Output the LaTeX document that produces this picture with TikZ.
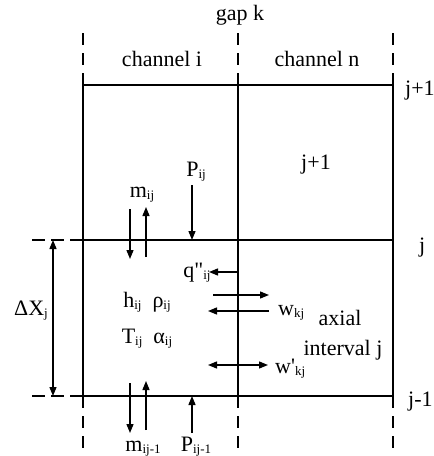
\documentclass[tikz,border=0pt]{standalone}
\usepackage{fontspec}
\setmainfont{Liberation Serif}[Ligatures=TeXOff]
\usetikzlibrary{arrows.meta}
\newcommand{\lo}[1]{\raisebox{-0.1em}{\fontsize{13}{13}\selectfont #1}}
\begin{document}
\begin{tikzpicture}[x=1pt,y=-1pt,
  wall/.style={line width=1.4pt},
  dashv/.style={line width=1.3pt,dash pattern=on 12pt off 8pt},
  dashh/.style={line width=1.3pt,dash pattern=on 13pt off 6pt},
  flow/.style={line width=1.3pt,-{Triangle[length=9pt,width=7pt]}},
  flow2/.style={line width=1.3pt,{Triangle[length=9pt,width=7pt]}-{Triangle[length=9pt,width=7pt]}},
  lab/.style={inner sep=0pt,anchor=base,font=\fontsize{22}{24}\selectfont},
  labw/.style={lab,anchor=base west}]
\useasboundingbox (0,0) rectangle (434,456);
% grid corners
\coordinate (TL) at (83,85); \coordinate (TM) at (238,85); \coordinate (TR) at (393,85);
\coordinate (ML) at (83,240); \coordinate (MM) at (238,240); \coordinate (MR) at (393,240);
\coordinate (BL) at (83,396); \coordinate (BM) at (238,396); \coordinate (BR) at (393,396);
\draw[wall] (TL) -- (TR) (ML) -- (MR) (BL) -- (BR);
\draw[wall] (TL) -- (BL) (TM) -- (BM) (TR) -- (BR);
% dashed extensions
\coordinate (TLd) at (83,33); \coordinate (TMd) at (238,33); \coordinate (TRd) at (393,33);
\coordinate (BLd) at (83,448); \coordinate (BMd) at (238,448); \coordinate (BRd) at (393,448);
\draw[dashv] (TLd) -- (TL) (TMd) -- (TM) (TRd) -- (TR);
\draw[dashv] (BL) -- (BLd) (BM) -- (BMd) (BR) -- (BRd);
\coordinate (MLd) at (32,240); \coordinate (BLh) at (32,396);
\draw[dashh] (MLd) -- (ML) (BLh) -- (BL);
% Delta X arrow
\coordinate (dxt) at (53,240); \coordinate (dxb) at (53,396);
\draw[flow2] (dxt) -- (dxb);
% labels
\node[lab] (gap) at (240,20) {gap k};
\node[lab] (chi) at (162,66) {channel i};
\node[lab] (chn) at (317,66) {channel n};
\node[labw] (jp1) at (405,95) {j+1};
\node[labw] (jj) at (419,252) {j};
\node[labw] (jm1) at (408,406) {j-1};
\node[lab] (cell) at (316,169) {j+1};
\node[lab] (P) at (196,176) {P\lo{ij}};
\node[lab] (m) at (142,197) {m\lo{ij}};
\node[lab] (q) at (197,277) {q"\lo{ij}};
\node[lab] (hr) at (147,307) {h\lo{ij}\ \ ρ\lo{ij}};
\node[lab] (Ta) at (147,343) {T\lo{ij}\ \ α\lo{ij}};
\node[labw] (w) at (278,315) {w\lo{kj}};
\node[labw] (wp) at (275,373) {w'\lo{kj}};
\node[lab] (ax) at (340,325) {axial};
\node[lab] (iv) at (343,355) {interval j};
\node[lab] (dx) at (31,315) {ΔX\lo{j}};
\node[lab] (m1) at (143,451) {m\lo{ij-1}};
\node[lab] (P1) at (196,451) {P\lo{ij-1}};
% arrows upper interface
\coordinate (a1s) at (130,209); \coordinate (a1e) at (130,259);
\coordinate (a2s) at (146,257); \coordinate (a2e) at (146,207);
\coordinate (Ps) at (192,185); \coordinate (Pe) at (192,240);
\draw[flow] (a1s) -- (a1e);
\draw[flow] (a2s) -- (a2e);
\draw[flow] (Ps) -- (Pe);
% heat flux
\coordinate (qs) at (238,272); \coordinate (qe) at (209,272);
\draw[flow] (qs) -- (qe);
% crossflow
\coordinate (w1s) at (213,295); \coordinate (w1e) at (269,295);
\coordinate (w2s) at (269,311); \coordinate (w2e) at (208,311);
\draw[flow] (w1s) -- (w1e);
\draw[flow] (w2s) -- (w2e);
\coordinate (w3s) at (208,365); \coordinate (w3e) at (268,365);
\draw[flow2] (w3s) -- (w3e);
% lower interface
\coordinate (b1s) at (130,383); \coordinate (b1e) at (130,433);
\coordinate (b2s) at (146,430); \coordinate (b2e) at (146,381);
\coordinate (P1s) at (192,433); \coordinate (P1e) at (192,396);
\draw[flow] (b1s) -- (b1e);
\draw[flow] (b2s) -- (b2e);
\draw[flow] (P1s) -- (P1e);
\end{tikzpicture}
\end{document}
